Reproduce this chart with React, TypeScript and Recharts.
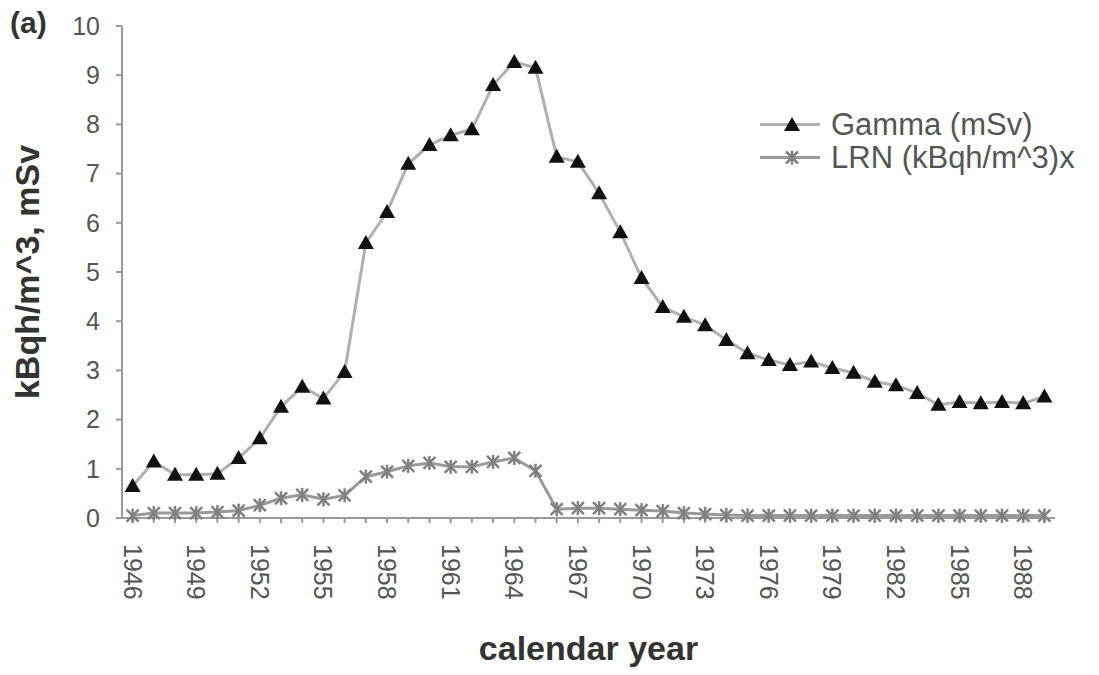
import React from "react";
import { LineChart, Line, XAxis, YAxis, Legend } from "recharts";

// calendar years 1946 - 1989
const years = [
  1946, 1947, 1948, 1949, 1950, 1951, 1952, 1953, 1954, 1955, 1956,
  1957, 1958, 1959, 1960, 1961, 1962, 1963, 1964, 1965, 1966, 1967,
  1968, 1969, 1970, 1971, 1972, 1973, 1974, 1975, 1976, 1977, 1978,
  1979, 1980, 1981, 1982, 1983, 1984, 1985, 1986, 1987, 1988, 1989,
];

// Gamma (mSv)
const gamma = [
  0.65, 1.15, 0.88, 0.88, 0.9, 1.22, 1.62, 2.26, 2.67, 2.43, 2.97,
  5.59, 6.22, 7.2, 7.58, 7.78, 7.9, 8.8, 9.27, 9.15, 7.34, 7.24,
  6.6, 5.81, 4.88, 4.29, 4.09, 3.92, 3.62, 3.35, 3.21, 3.11, 3.18,
  3.05, 2.95, 2.77, 2.7, 2.54, 2.3, 2.36, 2.33, 2.36, 2.33, 2.47,
];

// LRN (kBqh/m^3)
const lrn = [
  0.05, 0.1, 0.1, 0.1, 0.12, 0.15, 0.26, 0.4, 0.47, 0.38, 0.46,
  0.84, 0.94, 1.06, 1.12, 1.04, 1.04, 1.14, 1.22, 0.96, 0.18, 0.2,
  0.2, 0.18, 0.16, 0.14, 0.1, 0.08, 0.06, 0.05, 0.05, 0.05, 0.05,
  0.05, 0.05, 0.05, 0.05, 0.05, 0.05, 0.05, 0.05, 0.05, 0.05, 0.05,
];

const yTicks = [0, 1, 2, 3, 4, 5, 6, 7, 8, 9, 10];
const labelYears = [1946, 1949, 1952, 1955, 1958, 1961, 1964, 1967, 1970, 1973, 1976, 1979, 1982, 1985, 1988];

const data = years.map((y, i) => ({ year: String(y), gamma: gamma[i], lrn: lrn[i] }));

const FONT = '"Liberation Sans", Arial, sans-serif';

function YearTick(props: any) {
  const { x, y, payload } = props;
  if (!labelYears.includes(Number(payload.value))) return <g />;
  return (
    <text
      x={x}
      y={y}
      transform={`rotate(90, ${x}, ${y})`}
      textAnchor="start"
      dominantBaseline="central"
      fontSize={25}
      fontFamily={FONT}
      fill="#555"
    >
      {payload.value}
    </text>
  );
}

function Triangle(props: any) {
  const { cx, cy } = props;
  if (cx == null || cy == null) return <g />;
  return <polygon points={`${cx},${cy - 8} ${cx + 8},${cy + 6} ${cx - 8},${cy + 6}`} fill="#111" />;
}

function Star(props: any) {
  const { cx, cy } = props;
  if (cx == null || cy == null) return <g />;
  const r = 6;
  return (
    <g stroke="#808080" strokeWidth={2.5}>
      <line x1={cx - r} y1={cy - r} x2={cx + r} y2={cy + r} />
      <line x1={cx - r} y1={cy + r} x2={cx + r} y2={cy - r} />
      <line x1={cx} y1={cy - r - 1} x2={cx} y2={cy + r + 1} />
    </g>
  );
}

function renderLegend(props: any) {
  const { payload } = props;
  return (
    <div style={{ fontFamily: FONT, fontSize: 31, lineHeight: "33px", color: "#555", whiteSpace: "nowrap" }}>
      {payload.map((item: any) => (
        <div key={item.dataKey} style={{ display: "flex", alignItems: "center", height: 33 }}>
          <svg width={64} height={33} style={{ marginRight: 9 }}>
            <line x1={2} y1={16.5} x2={62} y2={16.5} stroke={item.dataKey === "gamma" ? "#b0b0b0" : "#999"} strokeWidth={3} />
            {item.dataKey === "gamma" ? <Triangle cx={34} cy={17} /> : <Star cx={34} cy={16.5} />}
          </svg>
          <span style={{ lineHeight: "30px" }}>{item.value}</span>
        </div>
      ))}
    </div>
  );
}

export default function App() {
  return (
    <div style={{ position: "absolute", left: 0, top: 0, width: 1099, height: 675, overflow: "hidden", background: "#fff" }}>
      <div style={{ position: "absolute", left: 10, top: 6, fontFamily: FONT, fontWeight: "bold", fontSize: 30, color: "#333" }}>
        (a)
      </div>
      <LineChart width={1099} height={675} data={data} margin={{ top: 26, right: 44, bottom: 0, left: 0 }}>
        <XAxis
          dataKey="year"
          interval={0}
          height={157}
          padding={{ left: 10.6, right: 10.6 }}
          tick={<YearTick />}
          tickSize={5}
          tickMargin={21}
          stroke="#999"
          strokeWidth={2}
          label={{
            value: "calendar year",
            position: "insideBottom",
            offset: 15,
            style: { fontFamily: FONT, fontWeight: "bold", fontSize: 34, fill: "#333" },
          }}
        />
        <YAxis
          width={122}
          domain={[0, 10]}
          ticks={yTicks}
          interval={0}
          tickSize={6}
          tickMargin={16}
          stroke="#999"
          strokeWidth={2}
          tick={{ fontFamily: FONT, fontSize: 25, fill: "#555" }}
          label={{
            value: "kBqh/m^3, mSv",
            angle: -90,
            position: "insideLeft",
            offset: 27,
            style: { textAnchor: "middle", fontFamily: FONT, fontWeight: "bold", fontSize: 34, fill: "#333" },
          }}
        />
        <Legend
          layout="vertical"
          align="center"
          verticalAlign="middle"
          content={renderLegend}
          wrapperStyle={{ top: 108, left: 758, width: 341 }}
        />
        <Line
          name="Gamma (mSv)"
          dataKey="gamma"
          stroke="#b0b0b0"
          strokeWidth={3}
          dot={<Triangle />}
          activeDot={false}
          isAnimationActive={false}
        />
        <Line
          name="LRN (kBqh/m^3)x"
          dataKey="lrn"
          stroke="#999"
          strokeWidth={3}
          dot={<Star />}
          activeDot={false}
          isAnimationActive={false}
        />
      </LineChart>
    </div>
  );
}
